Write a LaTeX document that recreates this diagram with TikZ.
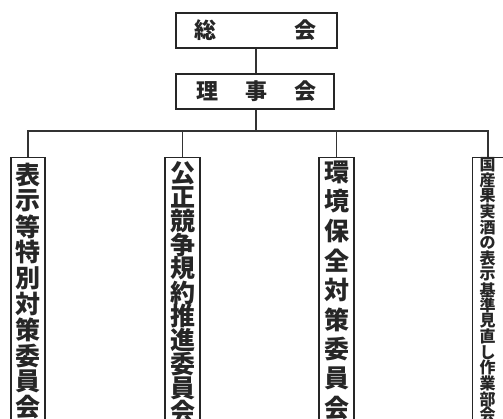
\documentclass[tikz,border=0pt]{standalone}
\usepackage{fontspec}
\newfontfamily\jp{Noto Sans CJK JP}
\begin{document}
\begin{tikzpicture}[x=1pt,y=-1pt,line width=1.1pt,
  every node/.style={inner sep=0pt},
  topbox/.style={draw=black!85,minimum height=35pt},
  vbox/.style={draw=black!85,minimum height=290pt},
  bigch/.style={font=\jp\bfseries\fontsize{25}{25}\selectfont,text=black!85},
  smallch/.style={font=\jp\bfseries\fontsize{16}{16}\selectfont,text=black!85},
  topch/.style={font=\jp\bfseries\fontsize{22}{22}\selectfont,text=black!85},
  conn/.style={draw=black!80,line width=1.1pt}]
\useasboundingbox (0,0) rectangle (503,419);
\clip (0,0) rectangle (503,419);
% top boxes
\node[topbox,minimum width=161pt] (sokai) at (256.5,30.5) {};
\node[topch] (s1) at (205,30.5) {総};
\node[topch] (s2) at (305,30.5) {会};
\node[topbox,minimum width=158pt] (riji) at (255,91.5) {};
\node[topch] (r1) at (207,91.5) {理};
\node[topch] (r2) at (256,91.5) {事};
\node[topch] (r3) at (305,91.5) {会};
% vertical boxes (top at y=157)
\node[vbox,minimum width=34pt,anchor=north] (b1) at (28,157) {};
\node[vbox,minimum width=35pt,anchor=north] (b2) at (182.5,157) {};
\node[vbox,minimum width=35pt,anchor=north] (b3) at (336.5,157) {};
\node[vbox,minimum width=31pt,anchor=north] (b4) at (488,157) {};
\foreach \c [count=\i] in {表,示,等,特,別,対,策,委,員,会}
  \node[bigch] (b1c\i) at (28,{175+25.8*(\i-1)}) {\c};
\foreach \c [count=\i] in {公,正,競,争,規,約,推,進,委,員,会}
  \node[bigch] (b2c\i) at (182.5,{173+23.9*(\i-1)}) {\c};
\foreach \c [count=\i] in {環,境,保,全,対,策,委,員,会}
  \node[bigch] (b3c\i) at (336.5,{172+29.5*(\i-1)}) {\c};
\foreach \c [count=\i] in {国,産,果,実,酒,の,表,示,基,準,見,直,し,作,業,部,会}
  \node[smallch] (b4c\i) at (487.5,{165+15.6*(\i-1)}) {\c};
% connectors
\coordinate (bus) at (256,131);
\draw[conn] (sokai.south -| 256,0) -- (riji.north -| 256,0);
\draw[conn] (riji.south -| bus) -- (bus);
\draw[conn] (b1.north) |- (bus) -| (b4.north);
\draw[conn] (b2.north) -- (b2.north |- bus);
\draw[conn] (b3.north) -- (b3.north |- bus);
\end{tikzpicture}
\end{document}
